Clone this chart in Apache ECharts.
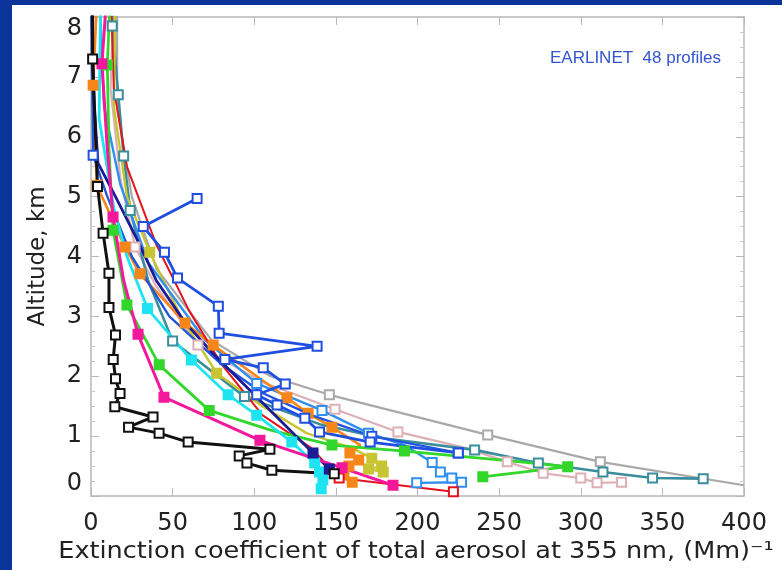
<!DOCTYPE html>
<html>
<head>
<meta charset="utf-8">
<script src="https://cdn.jsdelivr.net/npm/echarts@6/dist/echarts.min.js"></script>
<style>
  html, body { margin: 0; padding: 0; background: #0b349a; }
  #chart { width: 782px; height: 570px; }
</style>
</head>
<body>
<div id="chart"></div>
<script>
// [extinction (Mm^-1), altitude (km)]; a third value 0 = bend of the line with no square
var blackProfile = [[1, 8.5, 0], [1, 7.3], [4, 5.17], [7.4, 4.39], [11, 3.72], [11, 3.15], [15, 2.69], [13.6, 2.28], [15, 1.96], [17.8, 1.71], [14.6, 1.49], [38, 1.32], [23, 1.15], [41.7, 1.05], [59.5, 0.9], [109.6, 0.78], [90.8, 0.67], [95.5, 0.55], [110.8, 0.43], [149, 0.37]];
var magentaProfile = [[10, 8.5, 0], [6.7, 7.22], [10, 5.8, 0], [13.5, 4.66], [20, 3.6, 0], [28.8, 2.7], [44.7, 1.65], [103.5, 0.93], [153.8, 0.47], [185, 0.18]];
var redProfile = [[12, 8.5, 0], [14, 6.8, 0], [22, 5.5, 0], [40, 4.2, 0], [60, 3.1, 0], [80, 2.2, 0], [105, 1.35, 0], [135, 0.8, 0], [152, 0.3], [222, 0.07]];
var cyanProfile = [[6, 8.5, 0], [5, 6.3, 0], [14, 4.8, 0], [22, 4.0, 0], [34.6, 3.13], [61.5, 2.27], [84, 1.69], [101.5, 1.35], [123, 0.9], [137, 0.55], [140, 0.4], [142, 0.27], [141, 0.12]];
var greenProfile = [[12, 8.5, 0], [10, 7.2], [11, 5.8, 0], [13.5, 4.44], [22, 3.19], [41.8, 2.19], [72.4, 1.43], [110, 1.1, 0], [147.6, 0.85], [192, 0.75], [260, 0.58, 0], [292, 0.49], [240, 0.32]];
var tealProfile = [[13, 8.5, 0], [13, 7.85], [16.7, 6.7], [20, 5.68], [24, 4.77], [35, 3.6, 0], [50, 2.59], [94, 1.66], [140, 1.2, 0], [178, 0.97, 0], [235, 0.77], [274, 0.55], [313.6, 0.4], [344, 0.3], [375, 0.29]];
var grayProfile = [[16, 8.5, 0], [16, 6.5, 0], [25, 5.0, 0], [40, 3.8, 0], [74, 2.6, 0], [110, 2.0, 0], [146, 1.69], [243, 1.02], [312, 0.57], [400, 0.18, 0]];
var pinkProfile = [[14, 8.5, 0], [12, 6.8, 0], [18, 5.3, 0], [27, 4.16], [40, 3.5, 0], [65.5, 2.52], [105, 1.9, 0], [149.5, 1.45], [188, 1.07], [230, 0.8, 0], [255, 0.57], [277, 0.38], [300, 0.3], [310, 0.22], [325, 0.23]];
var blueZigzag = [[65, 4.97], [32, 4.5], [45, 4.07], [53, 3.64], [78, 3.17], [78.5, 2.72], [138.5, 2.5], [82, 2.28], [105.5, 2.14], [119, 1.87], [101.5, 1.69], [114, 1.52], [131, 1.3], [140, 1.07], [171, 0.9], [225, 0.72]];
var blueProfile = [[0, 8.5, 0], [1.3, 5.69], [10, 5.0, 0], [25, 4.0, 0], [48, 3.0, 0], [80, 2.2, 0], [105, 1.72, 0], [135, 1.35, 0], [172, 1.0], [225, 0.72]];
var skyProfile = [[5, 8.5, 0], [8, 6.5, 0], [18, 5.2, 0], [35, 3.9, 0], [70, 2.6, 0], [101.5, 1.88], [141.5, 1.43], [170, 1.05], [192, 0.85, 0], [209, 0.56], [214, 0.4], [221, 0.3], [227, 0.23], [199.5, 0.22]];
var navyProfile = [[0.5, 8.5, 0], [1, 7.3, 0], [2, 6.5, 0], [4.3, 5.56, 0], [15, 5.0, 0], [28, 4.3, 0], [40, 3.6, 0], [57.6, 2.9, 0], [74.7, 2.38, 0], [136, 0.72], [146, 0.45]];
var orangeProfile = [[4, 8.5, 0], [1.3, 6.86], [3.6, 5.19], [20.8, 4.16], [30, 3.71], [57.6, 2.89], [74.8, 2.52], [120, 1.64], [133, 1.38], [147.6, 1.15], [165, 0.85, 0], [158.6, 0.72], [164, 0.6], [158, 0.5], [155, 0.35], [160, 0.23]];
var oliveProfile = [[15, 8.5, 0], [14, 6.5, 0], [22, 5.0, 0], [36, 4.07], [55, 3.0, 0], [77, 2.05], [105, 1.5, 0], [132, 1.05, 0], [160, 0.8, 0], [172, 0.63], [178, 0.5], [170, 0.45], [179, 0.4]];

var xTicks = [0, 400, 50];
var yTicks = [0, 8, 1];

var profiles = [
    { data: grayProfile, color: '#a9a9a9', symbol: 'emptyRect', width: 2.2, border: 2 },
    { data: pinkProfile, color: '#dcb0b4', symbol: 'emptyRect', width: 2.2, border: 2 },
    { data: tealProfile, color: '#3a8d9c', symbol: 'emptyRect', width: 2.6, border: 2 },
    { data: oliveProfile, color: '#c8c532', symbol: 'rect', width: 2.4, border: 2 },
    { data: skyProfile, color: '#2f8fef', symbol: 'emptyRect', width: 2.4, border: 2 },
    { data: orangeProfile, color: '#f7861a', symbol: 'rect', width: 2.6, border: 2 },
    { data: redProfile, color: '#e3141e', symbol: 'emptyRect', width: 2, border: 2 },
    { data: blueProfile, color: '#2255dd', symbol: 'emptyRect', width: 2.4, border: 2 },
    { data: greenProfile, color: '#33d62a', symbol: 'rect', width: 2.8, border: 2 },
    { data: cyanProfile, color: '#1ee4f2', symbol: 'rect', width: 2.8, border: 2 },
    { data: navyProfile, color: '#1c1c96', symbol: 'rect', width: 2.8, border: 2 },
    { data: blueZigzag, color: '#1f4fe0', symbol: 'emptyRect', width: 2.8, border: 2 },
    { data: magentaProfile, color: '#f5189c', symbol: 'rect', width: 3, border: 2 },
    { data: blackProfile, color: '#111111', symbol: 'emptyRect', width: 3, border: 3 }
];

var chart = echarts.init(document.getElementById('chart'));

var axisGray = '#b8b8b8';

var option = {
    backgroundColor: '#0b349a',
    animation: false,
    textStyle: { fontFamily: 'DejaVu Sans' },
    graphic: [
        { type: 'rect', z: -10, shape: { x: 12, y: 5, width: 770, height: 565 }, style: { fill: '#ffffff' } },
        {
            type: 'text', x: 721, y: 58,
            style: { text: 'EARLINET  48 profiles', fill: '#3355d0', font: '17px "Liberation Sans Narrow", "Liberation Sans"', textAlign: 'right', textVerticalAlign: 'middle' }
        },
        {
            type: 'text', x: 416, y: 552, scaleX: 1.11, originX: 0,
            style: { text: 'Extinction coefficient of total aerosol at 355 nm, (Mm)\u207B\u00B9', fill: '#222', font: '23px "DejaVu Sans"', textAlign: 'center', textVerticalAlign: 'middle' }
        }
    ],
    grid: { left: 91, right: 38, top: 17, bottom: 74 },
    xAxis: [
        {
            type: 'value', min: xTicks[0], max: xTicks[1], interval: xTicks[2],
            axisLine: { onZero: false, lineStyle: { color: axisGray, width: 1.5 } },
            axisTick: { inside: true, length: 8, lineStyle: { color: axisGray } },
            axisLabel: { color: '#222', fontSize: 24, margin: 16 },
            splitLine: { show: false }
        },
        {
            type: 'value', position: 'top', min: xTicks[0], max: xTicks[1], interval: xTicks[2],
            axisLine: { onZero: false, lineStyle: { color: axisGray, width: 1.5 } },
            axisTick: { inside: true, length: 8, lineStyle: { color: axisGray } },
            axisLabel: { show: false },
            splitLine: { show: false }
        }
    ],
    yAxis: [
        {
            type: 'value', min: yTicks[0], max: yTicks[1], interval: yTicks[2],
            name: 'Altitude, km',
            nameLocation: 'middle', nameGap: 41,
            nameTextStyle: { color: '#222', fontSize: 23 },
            axisLine: { show: true, onZero: false, lineStyle: { color: axisGray, width: 1.5 } },
            axisTick: { inside: true, length: 8, lineStyle: { color: axisGray } },
            minorTick: { show: true, splitNumber: 4, length: 4, lineStyle: { color: '#c8c8c8' } },
            axisLabel: { color: '#222', fontSize: 24, margin: 9, verticalAlignMinLabel: 'bottom', verticalAlignMaxLabel: 'top' },
            splitLine: { show: false }
        },
        {
            type: 'value', position: 'right', min: yTicks[0], max: yTicks[1], interval: yTicks[2],
            axisLine: { show: true, onZero: false, lineStyle: { color: axisGray, width: 1.5 } },
            axisTick: { inside: true, length: 8, lineStyle: { color: axisGray } },
            minorTick: { show: true, splitNumber: 4, length: 4, lineStyle: { color: '#c8c8c8' } },
            axisLabel: { show: false },
            splitLine: { show: false }
        }
    ],
    series: profiles.map(function (p) {
        return {
            type: 'line',
            clip: true,
            symbol: p.symbol,
            symbolSize: 9,
            showAllSymbol: true,
            lineStyle: { color: p.color, width: p.width },
            itemStyle: { color: p.color, borderColor: p.color, borderWidth: p.border },
            data: p.data.map(function (d) {
                return d[2] === 0 ? { value: [d[0], d[1]], symbol: 'none' } : [d[0], d[1]];
            })
        };
    })
};

chart.setOption(option);
</script>
</body>
</html>
